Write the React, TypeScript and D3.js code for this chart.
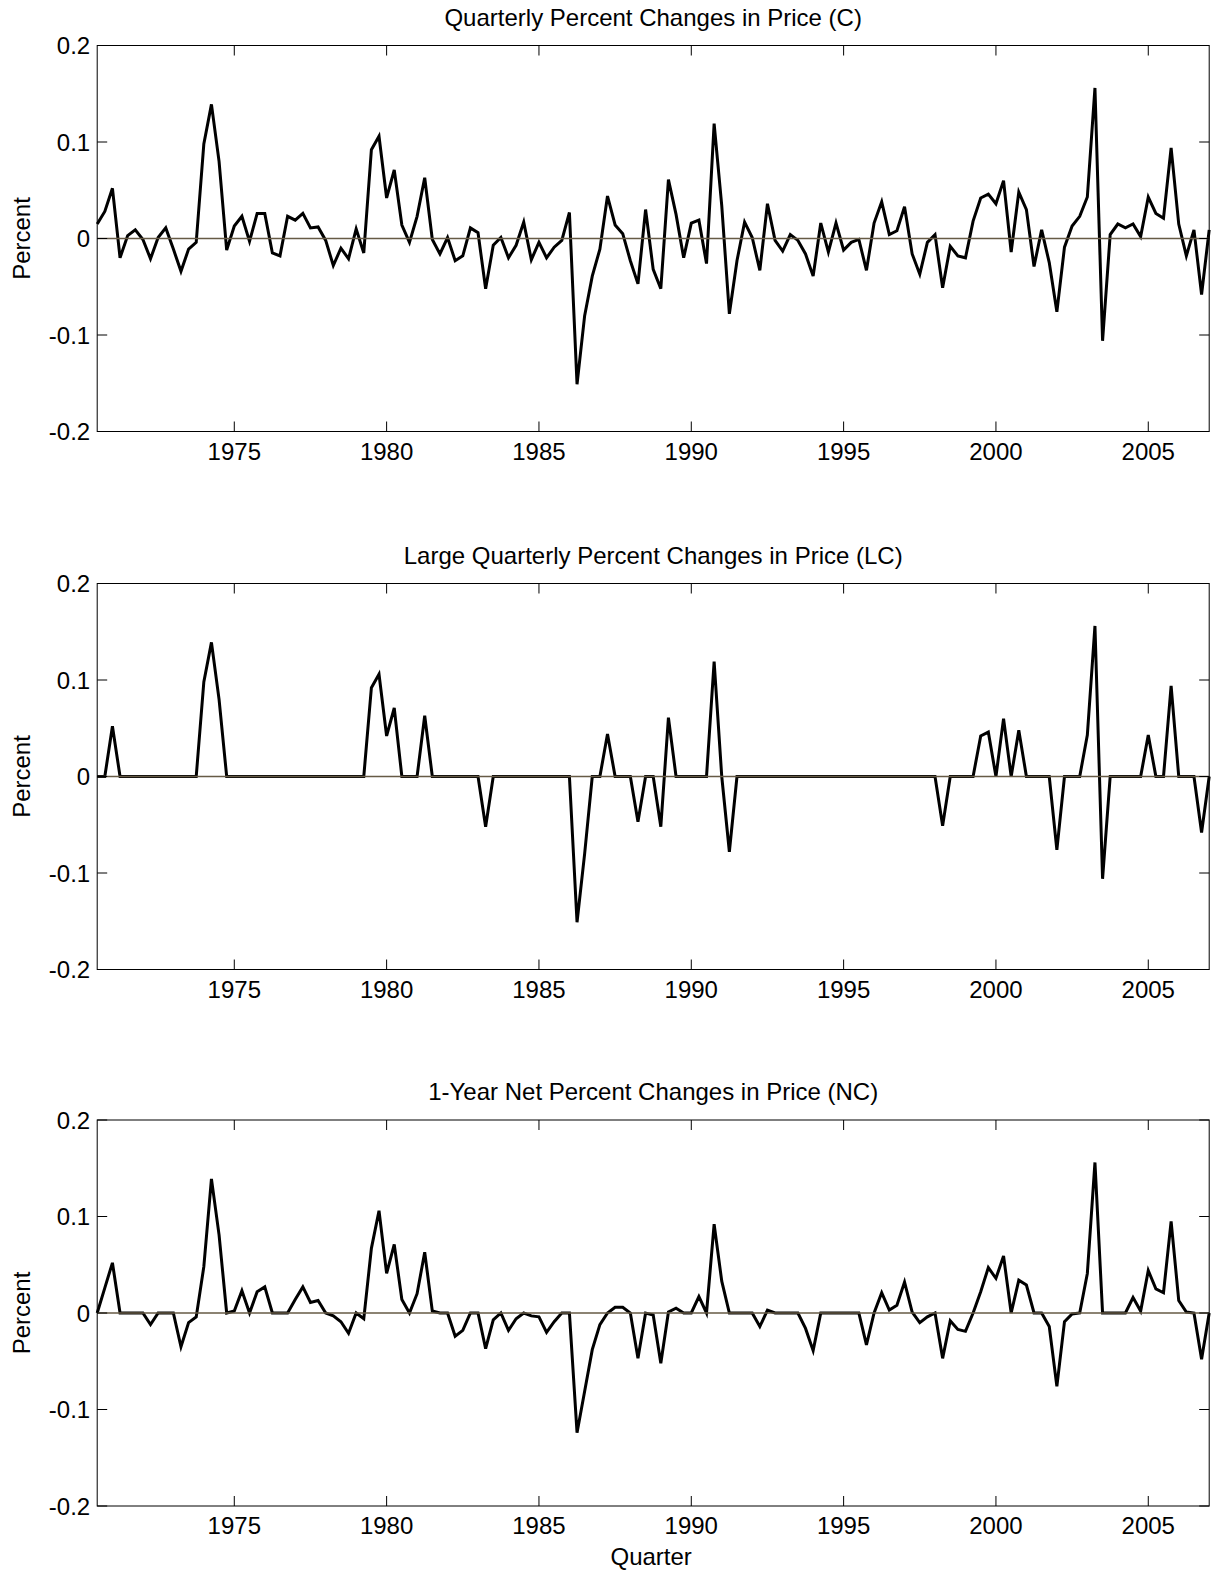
import React from 'react';
import * as d3 from 'd3';

// Quarterly series, first observation at 1970.5, one value per quarter.
const START_YEAR = 1970.5;
const END_YEAR = 2007;
const X_TICKS = [1975, 1980, 1985, 1990, 1995, 2000, 2005];
const Y_TICKS = [-0.2, -0.1, 0, 0.1, 0.2];
const Y_TICK_LABELS = ['-0.2', '-0.1', '0', '0.1', '0.2'];

// Quarterly percent changes in price (C)
const C = [
  0.015, 0.028, 0.052, -0.020, 0.003, 0.009, -0.001, -0.021, 0.001, 0.011,
  -0.011, -0.034, -0.011, -0.004, 0.098, 0.139, 0.080, -0.012, 0.013, 0.023,
  -0.003, 0.026, 0.026, -0.015, -0.018, 0.023, 0.019, 0.026, 0.011, 0.012,
  -0.002, -0.028, -0.010, -0.021, 0.010, -0.015, 0.092, 0.106, 0.042, 0.071,
  0.014, -0.004, 0.023, 0.063, -0.001, -0.016, 0.001, -0.023, -0.018, 0.011,
  0.006, -0.052, -0.007, 0.001, -0.020, -0.007, 0.017, -0.022, -0.004, -0.020,
  -0.009, -0.002, 0.027, -0.151, -0.080, -0.039, -0.011, 0.044, 0.014, 0.005,
  -0.023, -0.047, 0.030, -0.032, -0.052, 0.061, 0.025, -0.020, 0.016, 0.019,
  -0.026, 0.119, 0.034, -0.078, -0.023, 0.017, 0.001, -0.033, 0.036, -0.002,
  -0.013, 0.004, -0.002, -0.016, -0.039, 0.016, -0.014, 0.016, -0.012, -0.004,
  -0.001, -0.033, 0.016, 0.038, 0.004, 0.008, 0.033, -0.016, -0.037, -0.004,
  0.004, -0.051, -0.008, -0.018, -0.020, 0.018, 0.042, 0.046, 0.036, 0.060,
  -0.014, 0.048, 0.030, -0.029, 0.009, -0.025, -0.076, -0.009, 0.013, 0.023,
  0.043, 0.156, -0.106, 0.004, 0.015, 0.011, 0.015, 0.002, 0.043, 0.026,
  0.021, 0.094, 0.015, -0.018, 0.009, -0.058, 0.009,
];

// Large quarterly percent changes in price (LC)
const LC = [
  0, 0, 0.052, 0, 0, 0, 0, 0, 0, 0,
  0, 0, 0, 0, 0.098, 0.139, 0.080, 0, 0, 0,
  0, 0, 0, 0, 0, 0, 0, 0, 0, 0,
  0, 0, 0, 0, 0, 0, 0.092, 0.106, 0.042, 0.071,
  0, 0, 0, 0.063, 0, 0, 0, 0, 0, 0,
  0, -0.052, 0, 0, 0, 0, 0, 0, 0, 0,
  0, 0, 0, -0.151, -0.080, 0, 0, 0.044, 0, 0,
  0, -0.047, 0, 0, -0.052, 0.061, 0, 0, 0, 0,
  0, 0.119, 0, -0.078, 0, 0, 0, 0, 0, 0,
  0, 0, 0, 0, 0, 0, 0, 0, 0, 0,
  0, 0, 0, 0, 0, 0, 0, 0, 0, 0,
  0, -0.051, 0, 0, 0, 0, 0.042, 0.046, 0, 0.060,
  0, 0.048, 0, 0, 0, 0, -0.076, 0, 0, 0,
  0.043, 0.156, -0.106, 0, 0, 0, 0, 0, 0.043, 0,
  0, 0.094, 0, 0, 0, -0.058, 0,
];

// 1-year net percent changes in price (NC)
const NC = [
  0, 0.026, 0.052, 0, 0, 0, 0, -0.012, 0, 0,
  0, -0.035, -0.010, -0.004, 0.048, 0.139, 0.081, 0, 0.002, 0.023,
  0, 0.022, 0.027, 0, 0, 0, 0.014, 0.027, 0.011, 0.013,
  0, -0.003, -0.009, -0.021, 0, -0.006, 0.067, 0.106, 0.041, 0.071,
  0.014, 0, 0.020, 0.063, 0.002, 0, 0, -0.024, -0.018, 0,
  0, -0.037, -0.007, 0, -0.018, -0.006, 0, -0.003, -0.004, -0.020,
  -0.009, 0, 0, -0.124, -0.081, -0.038, -0.012, 0, 0.006, 0.006,
  0, -0.047, 0, -0.002, -0.052, 0.001, 0.005, 0, 0, 0.017,
  0, 0.092, 0.033, 0, 0, 0, 0, -0.014, 0.003, 0,
  0, 0, 0, -0.016, -0.039, 0, 0, 0, 0, 0,
  0, -0.033, 0, 0.021, 0.003, 0.008, 0.032, 0.001, -0.010, -0.004,
  0, -0.047, -0.008, -0.017, -0.019, 0, 0.022, 0.047, 0.036, 0.059,
  0, 0.034, 0.029, 0, 0, -0.014, -0.076, -0.009, -0.001, 0,
  0.041, 0.156, 0, 0, 0, 0, 0.016, 0.002, 0.044, 0.025,
  0.021, 0.095, 0.013, 0.001, 0, -0.048, 0,
];

const TITLES = [
  'Quarterly Percent Changes in Price (C)',
  'Large Quarterly Percent Changes in Price (LC)',
  '1-Year Net Percent Changes in Price (NC)',
];
const SERIES = [C, LC, NC];

const WIDTH = 1216;
const HEIGHT = 1573;
const LEFT = 97.2;
const RIGHT = 1209.2;
const PANEL_TOPS = [45.5, 583.5, 1120];
const PANEL_H = 386;
const FONT = '"Liberation Sans", Arial, Helvetica, sans-serif';
const FS = 24;
const TICK = 10;
const AXIS_COLOR = '#000';
const ZERO_COLOR = '#665a45';

function Panel({ top, title, values, xLabel }: { top: number; title: string; values: number[]; xLabel?: string }) {
  const bottom = top + PANEL_H;
  const x = d3.scaleLinear().domain([START_YEAR, END_YEAR]).range([LEFT, RIGHT]);
  const y = d3.scaleLinear().domain([-0.2, 0.2]).range([bottom, top]);
  const line = d3
    .line<number>()
    .x((_, i) => x(START_YEAR + i / 4))
    .y((d) => y(d));
  const midY = (top + bottom) / 2;
  return (
    <g>
      <rect x={LEFT} y={top} width={RIGHT - LEFT} height={PANEL_H} fill="#fff" />
      <path d={line(values) || ''} fill="none" stroke="#000" strokeWidth={3} strokeLinejoin="miter" />
      <line x1={LEFT} x2={RIGHT} y1={y(0)} y2={y(0)} stroke={ZERO_COLOR} strokeWidth={1.6} />
      {/* frame */}
      <rect x={LEFT} y={top} width={RIGHT - LEFT} height={PANEL_H} fill="none" stroke={AXIS_COLOR} strokeWidth={1} />
      {/* y ticks, both sides */}
      {Y_TICKS.map((t, i) => (
        <g key={'y' + t}>
          <line x1={LEFT} x2={LEFT + TICK} y1={y(t)} y2={y(t)} stroke={AXIS_COLOR} strokeWidth={1} />
          <line x1={RIGHT - TICK} x2={RIGHT} y1={y(t)} y2={y(t)} stroke={AXIS_COLOR} strokeWidth={1} />
          <text x={LEFT - 7} y={y(t)} dy="0.36em" textAnchor="end" fontSize={FS} fontFamily={FONT} fill="#000">
            {Y_TICK_LABELS[i]}
          </text>
        </g>
      ))}
      {/* x ticks, top and bottom */}
      {X_TICKS.map((t) => (
        <g key={'x' + t}>
          <line x1={x(t)} x2={x(t)} y1={bottom} y2={bottom - TICK} stroke={AXIS_COLOR} strokeWidth={1} />
          <line x1={x(t)} x2={x(t)} y1={top} y2={top + TICK} stroke={AXIS_COLOR} strokeWidth={1} />
          <text x={x(t)} y={bottom + 28} textAnchor="middle" fontSize={FS} fontFamily={FONT} fill="#000">
            {t}
          </text>
        </g>
      ))}
      <text x={(LEFT + RIGHT) / 2} y={top - 20} textAnchor="middle" fontSize={FS} fontFamily={FONT} fill="#000">
        {title}
      </text>
      <text
        transform={`translate(30, ${midY}) rotate(-90)`}
        textAnchor="middle"
        fontSize={FS}
        fontFamily={FONT}
        fill="#000"
      >
        Percent
      </text>
      {xLabel && (
        <text x={(LEFT + RIGHT) / 2 - 2} y={bottom + 59} textAnchor="middle" fontSize={FS} fontFamily={FONT} fill="#000">
          {xLabel}
        </text>
      )}
    </g>
  );
}

export default function App() {
  return (
    <svg
      width={WIDTH}
      height={HEIGHT}
      viewBox={`0 0 ${WIDTH} ${HEIGHT}`}
      style={{ position: 'absolute', left: 0, top: 0, display: 'block', background: '#fff' }}
    >
      <rect width={WIDTH} height={HEIGHT} fill="#fff" />
      {SERIES.map((vals, i) => (
        <Panel
          key={i}
          top={PANEL_TOPS[i]}
          title={TITLES[i]}
          values={vals}
          xLabel={i === SERIES.length - 1 ? 'Quarter' : undefined}
        />
      ))}
    </svg>
  );
}
